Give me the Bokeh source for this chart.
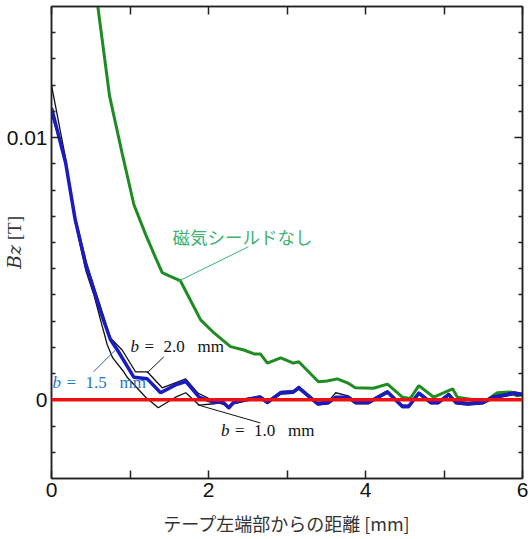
from bokeh.plotting import figure
from bokeh.models import Range1d, FixedTicker, LinearAxis, Label, Span
from bokeh.embed import file_html
from bokeh.resources import INLINE

# Distance from the left edge of the tape [mm]
# and the measured B_z [T] for each configuration.
x_noshield = [0.50, 0.59, 0.74, 0.90, 1.05, 1.20, 1.32, 1.41, 1.52, 1.64, 1.77,
              1.90, 2.07, 2.28, 2.45, 2.58, 2.66, 2.75, 2.92, 3.08, 3.15, 3.40,
              3.51, 3.64, 3.77, 3.87, 4.10, 4.28, 4.47, 4.57, 4.68, 4.87, 5.11,
              5.17, 5.38, 5.55, 5.68, 5.85, 5.93, 6.00]
bz_noshield = [0.0172, 0.0150, 0.01158, 0.0094, 0.00744, 0.0063, 0.00546, 0.00485,
               0.0047, 0.00455, 0.0038, 0.00305, 0.00255, 0.00203, 0.0019, 0.00175,
               0.00175, 0.0014, 0.0016, 0.0014, 0.00145, 0.00069, 0.00072, 0.0008,
               0.00065, 0.00046, 0.00044, 0.0006, 0.0001, 0.00005, 0.00054, 0.0001,
               0.00042, 0.0001, 0.0, 0.0, 0.00027, 0.0003, 0.00015, 0.0002]

x_b15 = [0.00, 0.18, 0.30, 0.44, 0.50, 0.62, 0.75, 0.84, 1.05, 1.22, 1.39, 1.58,
         1.71, 1.88, 2.07, 2.17, 2.26, 2.32, 2.47, 2.66, 2.75, 2.92, 3.08, 3.15,
         3.39, 3.53, 3.62, 3.78, 3.87, 4.04, 4.28, 4.47, 4.55, 4.68, 4.83, 4.93,
         5.06, 5.15, 5.30, 5.50, 5.63, 5.81, 5.89, 6.00]
bz_b15 = [0.01113, 0.00904, 0.0069, 0.0051, 0.00458, 0.0034, 0.0023, 0.0019,
          0.00086, 0.0008, 0.00027, 0.00057, 0.0007, 0.0001, -0.0001, -0.00005,
          -0.0003, -0.0001, 0.0, 0.0001, -0.0001, 0.00027, 0.0003, 0.00046,
          -0.00015, -0.0001, 0.0001, 0.0001, -0.0001, -0.0001, 0.0003, -0.00025,
          -0.00025, 0.00026, -0.0001, -0.0001, 0.0002, -0.0001, -0.00015, -0.0001,
          0.0001, 0.0002, 0.00026, 0.0002]

x_b20 = [0.00, 0.18, 0.30, 0.44, 0.50, 0.62, 0.75, 0.90, 1.07, 1.22, 1.41, 1.71,
         1.86, 2.07, 2.26, 2.32, 2.47, 2.66, 2.75, 2.92, 3.08, 3.15, 3.39, 3.53,
         3.62, 3.78, 3.87, 4.04, 4.28, 4.47, 4.55, 4.68, 4.83, 4.93, 5.06, 5.15,
         5.30, 5.50, 5.63, 5.81, 5.89, 6.00]
bz_b20 = [0.0109, 0.0091, 0.0070, 0.0053, 0.0047, 0.0036, 0.00236, 0.0019,
          0.00107, 0.00107, 0.00046, 0.0008, 0.00027, -0.00005, -0.00025, -0.00005,
          0.00005, 0.00015, -0.00005, 0.00032, 0.00035, 0.00052, -0.0001, -0.00005,
          0.00027, 0.00015, -0.00005, -0.00005, 0.00035, -0.0002, -0.0002, 0.0003,
          -0.00005, -0.00005, 0.00025, -0.00005, -0.0001, -0.00005, 0.00015,
          0.00025, 0.0003, 0.00025]

x_b10 = [0.00, 0.18, 0.30, 0.44, 0.54, 0.62, 0.71, 0.78, 0.92, 0.97, 1.20, 1.36,
         1.58, 1.71, 1.88, 2.07, 2.17, 2.26, 2.32, 2.47, 2.66, 2.75, 2.92, 3.08,
         3.15, 3.39, 3.53, 3.62, 3.78, 3.87, 4.04, 4.28, 4.47, 4.55, 4.68, 4.83,
         4.93, 5.06, 5.15, 5.30, 5.50, 5.63, 5.81, 5.89, 6.00]
bz_b10 = [0.0120, 0.0092, 0.0068, 0.0049, 0.0040, 0.0031, 0.0021, 0.0016,
          0.00107, 0.00084, 0.0001, -0.0003, 0.0001, 0.00027, -0.0002, -0.00015,
          -0.0001, -0.00035, -0.00015, -0.00005, 0.00005, -0.00015, 0.00022,
          0.00025, 0.0004, -0.0002, -0.00015, 0.00005, 0.00005, -0.00015, -0.00015,
          0.00025, -0.0003, -0.0003, 0.0002, -0.00015, -0.00015, 0.00015, -0.00015,
          -0.0002, -0.00015, 0.00005, 0.00015, 0.0002, 0.00015]

x_major = [0, 2, 4, 6]
x_minor = [1, 3, 5]
y_major = [0, 0.01]
y_minor = [-0.002, -0.001, 0.001, 0.002, 0.003, 0.004, 0.005, 0.006, 0.007,
           0.008, 0.009, 0.011, 0.012, 0.013, 0.014]

AXIS_COLOR = "#222222"

p = figure(width=530, height=539,
           x_range=Range1d(0, 6), y_range=Range1d(-0.003, 0.015),
           output_backend="svg", toolbar_location=None,
           min_border_left=51, min_border_right=8,
           min_border_top=6, min_border_bottom=61)
p.xgrid.visible = False
p.ygrid.visible = False
p.outline_line_color = AXIS_COLOR
p.outline_line_width = 1.5
p.background_fill_color = "white"
p.border_fill_color = "white"


def style_axis(ax, ticks, minor, major_len, minor_len, labels=True):
    ax.ticker = FixedTicker(ticks=ticks, minor_ticks=minor)
    ax.axis_line_color = AXIS_COLOR
    ax.axis_line_width = 1.5
    ax.major_tick_line_color = AXIS_COLOR
    ax.major_tick_line_width = 1.5
    ax.minor_tick_line_color = AXIS_COLOR
    ax.minor_tick_line_width = 1.5
    ax.major_tick_in = major_len
    ax.major_tick_out = 0
    ax.minor_tick_in = minor_len
    ax.minor_tick_out = 0
    if labels:
        ax.major_label_text_font = "Liberation Sans"
        ax.major_label_text_font_size = "21px"
        ax.major_label_text_color = "#111111"
    else:
        # mirrored axes carry tick marks only
        ax.major_label_text_font_size = "0px"
        ax.major_label_text_color = None
        ax.major_label_text_alpha = 0
        ax.major_label_standoff = 0


style_axis(p.xaxis[0], x_major, x_minor, 8, 8)
p.xaxis[0].major_label_standoff = 4
p.xaxis[0].axis_label = "テープ左端部からの距離 [mm]"
p.xaxis[0].axis_label_text_font = "Noto Sans CJK JP"
p.xaxis[0].axis_label_text_font_size = "18px"
p.xaxis[0].axis_label_text_font_style = "normal"
p.xaxis[0].axis_label_text_color = "#333333"
p.xaxis[0].axis_label_standoff = 10

style_axis(p.yaxis[0], y_major, y_minor, 8, 4)
p.yaxis[0].major_label_standoff = 4
p.yaxis[0].major_label_overrides = {0: "0", 0.01: "0.01"}
# the title shares the margin with the tick labels, so pull it inwards
p.yaxis[0].axis_label = "𝐵𝑧 [T]"
p.yaxis[0].axis_label_text_font = "Liberation Serif, DejaVu Serif"
p.yaxis[0].axis_label_text_font_size = "19px"
p.yaxis[0].axis_label_text_font_style = "normal"
p.yaxis[0].axis_label_text_color = "#333333"
p.yaxis[0].axis_label_standoff = -21

top_axis = LinearAxis()
style_axis(top_axis, x_major, x_minor, 8, 8, labels=False)
p.add_layout(top_axis, "above")
right_axis = LinearAxis()
style_axis(right_axis, y_major, y_minor, 8, 4, labels=False)
p.add_layout(right_axis, "right")

# curves
p.line(x_noshield, bz_noshield, line_color="#1e8c23", line_width=3)
p.line(x_b20, bz_b20, line_color="#111111", line_width=1.3)
p.line(x_b10, bz_b10, line_color="#111111", line_width=1.3)
p.line(x_b15, bz_b15, line_color="#1b1bc4", line_width=3.5)

p.add_layout(Span(location=0, dimension="width", line_color="#ee1111", line_width=3.5))

# leader lines from the annotations to their curves
p.line([2.51, 1.60], [0.00584, 0.0045], line_color="#3cb371", line_width=1)
p.line([1.43, 1.22], [0.00164, 0.00103], line_color="#111111", line_width=1)
p.line([0.535, 0.815], [0.00107, 0.0019], line_color="#2f5fb3", line_width=1)
p.line([1.86, 2.66], [-0.00019, -0.00088], line_color="#111111", line_width=1)


def b_label(x, y, num, color):
    parts = [("b", 0, "italic"), ("=", 14, "normal"), (num, 33, "normal"), ("mm", 67, "normal")]
    for txt, dx, style in parts:
        p.add_layout(Label(x=x, y=y, x_offset=dx, text=txt,
                           text_font="Liberation Serif", text_font_size="17px",
                           text_font_style=style, text_color=color,
                           text_align="left", text_baseline="middle"))


b_label(1.006, 0.00205, "2.0", "#111111")
b_label(0.013, 0.00067, "1.5", "#1f78c8")
b_label(2.158, -0.00118, "1.0", "#111111")

p.add_layout(Label(x=1.54, y=0.00624, text="磁気シールドなし",
                   text_font="Noto Sans CJK JP", text_font_size="17.5px",
                   text_color="#3cb371", text_align="left", text_baseline="middle"))

open("out.html", "w").write(file_html(p, INLINE))
